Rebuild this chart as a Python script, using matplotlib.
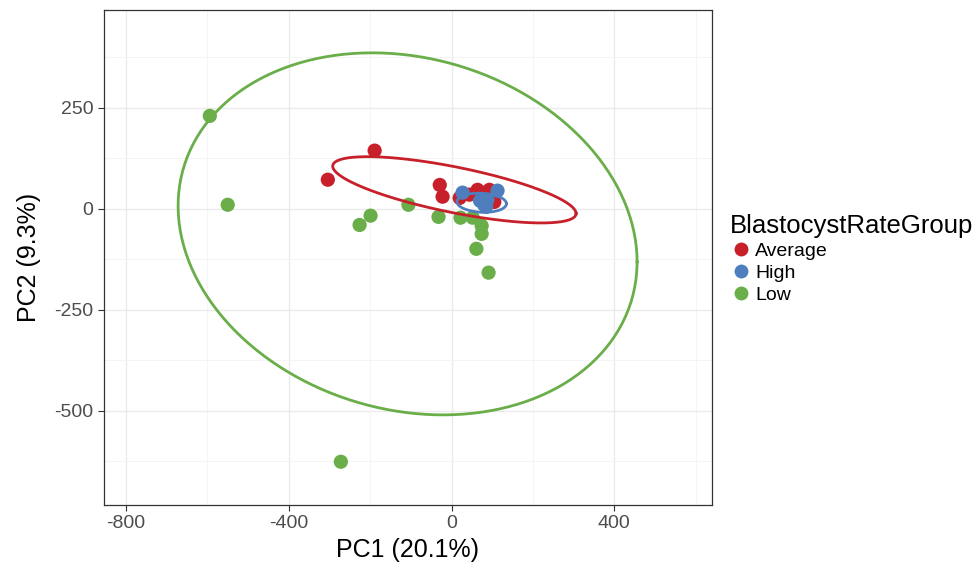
import numpy as np
import matplotlib
matplotlib.use("Agg")
import matplotlib.pyplot as plt
from matplotlib.lines import Line2D

plt.rcParams['font.family'] = ['Liberation Sans', 'DejaVu Sans']
plt.rcParams['axes.unicode_minus'] = False

groups = ["Average", "High", "Low"]
colors = {"Average": "#C8202A", "High": "#4F7EBE", "Low": "#6AAE4A"}

avg_x = [-189, -304, -29, -22, 20, 64, 93, 105, 44]
avg_y = [144, 72, 59, 30, 27, 47, 47, 17, 35]
high_x = [27, 70, 88, 80, 85, 113]
high_y = [40, 20, 22, 10, 5, 45]
low_x = [-594, -550, -272, -226, -199, -106, -32, 22, 52, 61, 74, 74, 91]
low_y = [230, 10, -626, -40, -17, 10, -20, -22, -22, -99, -42, -62, -158]

# ellipse centres and shape matrices
ell_center = {"Average": (7, 47), "High": (74, 15), "Low": (-108, -62)}
ell_shape = {
    "Average": [[89400, -17500], [-17500, 6724]],
    "High": [[3700, -150], [-150, 560]],
    "Low": [[318000, -39000], [-39000, 200700]],
}

points = {"Average": (avg_x, avg_y), "High": (high_x, high_y), "Low": (low_x, low_y)}

fig = plt.figure(figsize=(9.79, 5.68), dpi=100)
ax = fig.add_axes([104 / 979, 1 - 505 / 568, 608 / 979, 495 / 568])

for g in groups:
    px, py = points[g]
    ax.scatter(px, py, s=105, color=colors[g], edgecolors="none", zorder=3)

t = np.linspace(0, 2 * np.pi, 300)
for g in groups:
    L = np.linalg.cholesky(np.array(ell_shape[g], dtype=float))
    xy = L @ np.vstack([np.cos(t), np.sin(t)])
    cx, cy = ell_center[g]
    ax.plot(xy[0] + cx, xy[1] + cy, color=colors[g], lw=2.0, zorder=4)

ax.set_xlim(-854, 640)
ax.set_ylim(-733, 492)
ax.set_xticks([-800, -400, 0, 400])
ax.set_yticks([250, 0, -250, -500])
ax.set_xticks([-600, -200, 200, 600], minor=True)
ax.set_yticks([375, 125, -125, -375, -625], minor=True)
ax.grid(which="major", color="#EBEBEB", lw=1.0, zorder=0)
ax.grid(which="minor", color="#F3F3F3", lw=0.6, zorder=0)
ax.set_axisbelow(True)
ax.tick_params(which="minor", length=0)
ax.tick_params(which="major", length=4, color="#333333", labelsize=14, labelcolor="#4D4D4D")
for s in ax.spines.values():
    s.set_color("#333333")
    s.set_linewidth(0.9)

ax.set_xlabel("PC1 (20.1%)", fontsize=18, labelpad=4)
ax.set_ylabel("PC2 (9.3%)", fontsize=18, labelpad=10)

handles = [Line2D([], [], marker="o", ls="", markersize=10, color=colors[g], markeredgewidth=0) for g in groups]
leg = fig.legend(handles, groups, title="BlastocystRateGroup", loc="center left",
                 bbox_to_anchor=(722 / 979, 1 - 259 / 568), frameon=False,
                 fontsize=14, title_fontsize=18.5, handletextpad=0.1,
                 labelspacing=0.22, borderaxespad=0, handlelength=1.2)
leg._legend_box.align = "left"

fig.savefig("out.png", dpi=100)
